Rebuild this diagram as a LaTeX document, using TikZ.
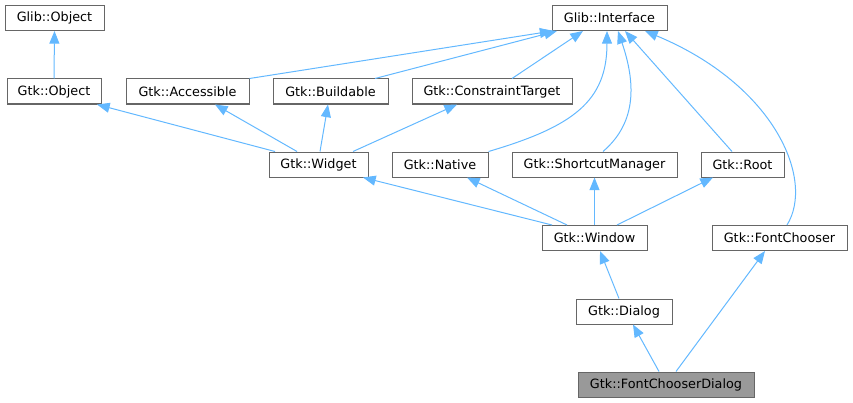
\documentclass[tikz,border=0pt]{standalone}
\usepackage{fontspec}
\setmainfont{DejaVu Sans}
\usetikzlibrary{arrows.meta,calc}
\definecolor{edgec}{HTML}{63B8FF}
\definecolor{borderc}{HTML}{666666}
\definecolor{curfill}{HTML}{999999}
\tikzset{
  cls/.style={draw=borderc, line width=0.75pt, fill=white, minimum height=18.75pt, inner sep=0pt, font=\fontsize{9.6pt}{11pt}\selectfont},
  cur/.style={cls, fill=curfill},
  inh/.style={draw=edgec, line width=0.75pt, -{Triangle[length=9.5pt,width=7.5pt]}}
}
\begin{document}
\begin{tikzpicture}[x=0.75pt,y=-0.75pt]
\useasboundingbox (0,0) rectangle (853,403);
\node[cls, minimum width=74.25pt] (globj) at (54.5,18) {Glib::Object};
\node[cls, minimum width=70.5pt] (gtkobj) at (54,91.5) {Gtk::Object};
\node[cls, minimum width=92.25pt] (access) at (187.5,91.5) {Gtk::Accessible};
\node[cls, minimum width=86.25pt] (build) at (330.5,91.5) {Gtk::Buildable};
\node[cls, minimum width=120pt] (ctarget) at (492,91.5) {Gtk::ConstraintTarget};
\node[cls, minimum width=86.25pt] (iface) at (609.5,18) {Glib::Interface};
\node[cls, minimum width=74.25pt] (widget) at (318.5,164.5) {Gtk::Widget};
\node[cls, minimum width=72pt] (native) at (440,164.5) {Gtk::Native};
\node[cls, minimum width=123.75pt] (shortcut) at (594.5,164.5) {Gtk::ShortcutManager};
\node[cls, minimum width=62.25pt] (root) at (742.5,164.5) {Gtk::Root};
\node[cls, minimum width=78.75pt] (window) at (594.5,238) {Gtk::Window};
\node[cls, minimum width=101.25pt] (fchooser) at (779.5,238) {Gtk::FontChooser};
\node[cls, minimum width=72pt] (dialog) at (624,311.5) {Gtk::Dialog};
\node[cur, minimum width=132pt] (fcd) at (666,384.5) {Gtk::FontChooserDialog};

\draw[inh] (gtkobj.north) -- (globj.south);
\draw[inh] (access.north east) -- ($(iface.south west)+(1,0)$);
\draw[inh] ($(build.north)+(44.5,0)$) -- ($(iface.south)+(-52.5,0)$);
\draw[inh] ($(ctarget.north)+(20,0)$) -- ($(iface.south)+(-26.5,0)$);
\draw[inh] (native.north east) .. controls +(85,-25) and +(0,70) .. ($(iface.south)+(-2.5,0)$);
\draw[inh] ($(shortcut.north)+(8.5,0)$) .. controls +(35,-30) and +(17,50) .. ($(iface.south)+(8.5,0)$);
\draw[inh] ($(root.north)+(-10.5,0)$) -- ($(iface.south)+(15.5,0)$);
\draw[inh] ($(fchooser.north)+(7.5,0)$) .. controls +(28,-45) and +(130,54) .. ($(iface.south)+(35.5,0)$);
\draw[inh] ($(widget.north)+(-43.5,0)$) -- ($(gtkobj.south)+(43,0)$);
\draw[inh] ($(widget.north)+(-21.5,0)$) -- ($(access.south)+(27.5,0)$);
\draw[inh] ($(widget.north)+(1.5,0)$) -- ($(build.south)+(-2.5,0)$);
\draw[inh] ($(widget.north)+(34.5,0)$) -- ($(ctarget.south)+(-35,0)$);
\draw[inh] ($(window.north)+(-42.5,0)$) -- ($(widget.south)+(44.5,0)$);
\draw[inh] ($(window.north)+(-27.5,0)$) -- ($(native.south)+(27,0)$);
\draw[inh] (window.north) -- (shortcut.south);
\draw[inh] ($(window.north)+(22.5,0)$) -- ($(root.south)+(-29.5,0)$);
\draw[inh] ($(dialog.north)+(-5,0)$) -- ($(window.south)+(5.5,0)$);
\draw[inh] ($(fcd.north)+(-7,0)$) -- ($(dialog.south)+(9,0)$);
\draw[inh] ($(fcd.north)+(10,0)$) -- ($(fchooser.south)+(-14.5,0)$);
\end{tikzpicture}
\end{document}
